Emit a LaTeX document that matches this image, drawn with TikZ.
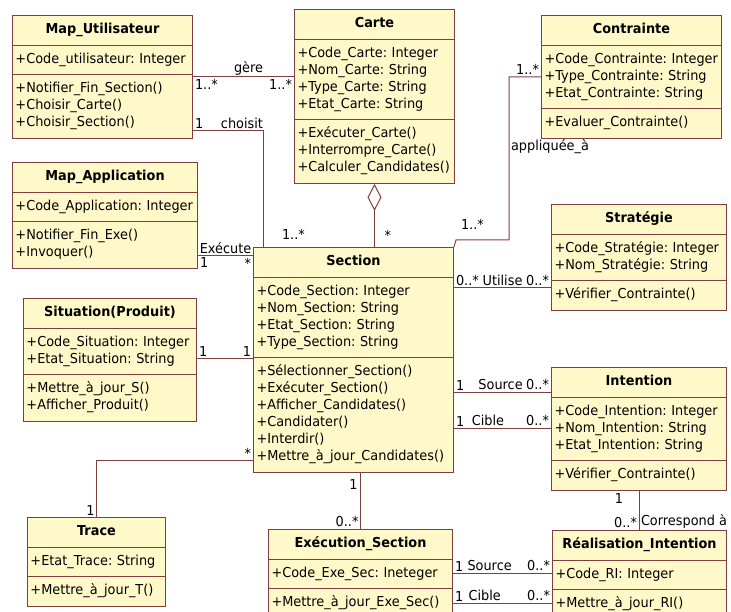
\documentclass[tikz,border=0pt]{standalone}
\usepackage{fontspec}
\setmainfont{DejaVu Sans}[FakeStretch=0.94]
\usepackage{tikz}
\usetikzlibrary{shapes.multipart, positioning, calc, arrows.meta}

\definecolor{umlfill}{HTML}{FFF9C9}
\definecolor{umlline}{HTML}{7F3F3F}
\newcommand{\umlfont}{\fontsize{13.7}{17}\selectfont\frenchspacing}

\tikzset{
    classbox/.style={rectangle split, rectangle split parts=3, draw=umlline, fill=umlfill,
        line width=1pt, anchor=north west, inner xsep=3pt, inner ysep=5.8pt,
        font=\umlfont, align=left}, % one UML class: title, attributes, operations
    assoc/.style={draw=umlline, line width=1pt}, % association lines
}

% name, x, y (top left), text width, title, attributes, operations
\newcommand{\classnode}[7]{%
    \node[classbox, text width=#4] (#1) at (#2,#3)
        {{\centering\bfseries\strut#5\strut\par}\nodepart{two}\strut#6\strut\nodepart{three}\strut#7\strut};%
}

\begin{document}
\begin{tikzpicture}[
                    x=1pt, y=-1pt,
                    mult/.style={font=\umlfont, inner sep=1.5pt},
                    role/.style={font=\umlfont, inner sep=1.5pt},
                ]
                \useasboundingbox (0,0) rectangle (731,612);
                % classes
                \classnode{MapU}{12}{15}{174}{Map\_Utilisateur}
                    {+Code\_utilisateur:~Integer}
                    {+Notifier\_Fin\_Section()\\+Choisir\_Carte()\\+Choisir\_Section()}
                \classnode{Carte}{294}{9}{154}{Carte}
                    {+Code\_Carte:~Integer\\+Nom\_Carte:~String\\+Type\_Carte:~String\\+Etat\_Carte:~String}
                    {+Exécuter\_Carte()\\+Interrompre\_Carte()\\+Calculer\_Candidates()}
                \classnode{Contrainte}{541}{15}{174}{Contrainte}
                    {+Code\_Contrainte:~Integer\\+Type\_Contrainte:~String\\+Etat\_Contrainte:~String}
                    {+Evaluer\_Contrainte()}
                \classnode{MapA}{12}{162}{179}{Map\_Application}
                    {+Code\_Application:~Integer}
                    {+Notifier\_Fin\_Exe()\\+Invoquer()}
                \classnode{Strategie}{551}{204}{169}{Stratégie}
                    {+Code\_Stratégie:~Integer\\+Nom\_Stratégie:~String}
                    {+Vérifier\_Contrainte()}
                \classnode{Section}{253}{247}{194}{Section}
                    {+Code\_Section:~Integer\\+Nom\_Section:~String\\+Etat\_Section:~String\\+Type\_Section:~String}
                    {+Sélectionner\_Section()\\+Exécuter\_Section()\\+Afficher\_Candidates()\\+Candidater()\\+Interdir()\\+Mettre\_à\_jour\_Candidates()}
                \classnode{Situation}{23}{298}{167}{Situation(Produit)}
                    {+Code\_Situation:~Integer\\+Etat\_Situation:~String}
                    {+Mettre\_à\_jour\_S()\\+Afficher\_Produit()}
                \classnode{Intention}{551}{367}{169}{Intention}
                    {+Code\_Intention:~Integer\\+Nom\_Intention:~String\\+Etat\_Intention:~String}
                    {+Vérifier\_Contrainte()}
                \classnode{Trace}{27}{517}{132}{Trace}
                    {+Etat\_Trace:~String}
                    {+Mettre\_à\_jour\_T()}
                \classnode{Execution}{268}{529}{178}{Exécution\_Section}
                    {+Code\_Exe\_Sec:~Ineteger}
                    {+Mettre\_à\_jour\_Exe\_Sec()}
                \classnode{Realisation}{552}{530}{168}{Réalisation\_Intention}
                    {+Code\_RI:~Integer}
                    {+Mettre\_à\_jour\_RI()}
                % associations
                \draw[assoc] (MapU.east |- 0,77) -- node[role, above, pos=0.55] {gère}
                    node[mult, below right, pos=0] {1..*} node[mult, below left, pos=1] {1..*} (Carte.west |- 0,77);
                \draw[assoc] (MapU.east |- 0,131) -| node[mult, above right, pos=0] {1}
                    node[role, above, pos=0.35] {choisit}
                    node[mult, pos=1, above right=5pt and 17pt] {1..*} ($(Section.north west)+(10,0)$);
                \draw[assoc] (MapA.east |- 0,256) -- node[role, above] {Exécute}
                    node[mult, below right, pos=0] {1} node[mult, below left, pos=1] {*} (Section.west |- 0,256);
                \draw[assoc] (Situation.east |- 0,358) -- node[mult, above right, pos=0] {1}
                    node[mult, above left, pos=1] {1} (Section.west |- 0,358);
                \draw[assoc] (Section.west |- 0,460) -| node[mult, above left, pos=0] {*}
                    node[mult, above left, pos=1] {1} (Trace.north);
                \draw[assoc, {Diamond[open, length=27pt, width=14pt]}-] (Carte.south) --
                    node[mult, pos=1, above right=4pt and 8pt] {*} (Carte.south |- Section.north);
                \draw[assoc] (Contrainte.west |- 0,77) -| node[mult, above left, pos=0] {1..*}
                    node[role, right, pos=0.715] {appliquée\_à} ++(-32,163)
                    -- node[mult, pos=1, above right=8pt and 3pt] {1..*} ++(-53,0) -- (Section.north east);
                \draw[assoc] (Section.east |- 0,288) -- node[mult, above right, pos=0] {0..*}
                    node[role, above] {Utilise} node[mult, above left, pos=1] {0..*} (Strategie.west |- 0,288);
                \draw[assoc] (Section.east |- 0,392) -- node[mult, above right, pos=0] {1}
                    node[role, above, pos=0.48] {Source} node[mult, above left, pos=1] {0..*} (Intention.west |- 0,392);
                \draw[assoc] (Section.east |- 0,428) -- node[mult, above right, pos=0] {1}
                    node[role, above, pos=0.35] {Cible} node[mult, above left, pos=1] {0..*} (Intention.west |- 0,428);
                \draw[assoc] (Execution.north |- Section.south) -- node[mult, pos=0, below left=5pt and 1pt] {1}
                    node[mult, above left, pos=1] {0..*} (Execution.north);
                \draw[assoc] (Intention.south) -- node[mult, pos=0, below left=1pt and 14pt] {1}
                    node[mult, above left, pos=1] {0..*}
                    node[role, above right, pos=1] {Correspond à} (Intention.south |- Realisation.north);
                \draw[assoc] (Execution.east |- 0,573) -- node[mult, above right, pos=0] {1}
                    node[role, above, pos=0.37] {Source} node[mult, above left, pos=1] {0..*} (Realisation.west |- 0,573);
                \draw[assoc] (Execution.east |- 0,603) -- node[mult, above right, pos=0] {1}
                    node[role, above, pos=0.32] {Cible} node[mult, above left, pos=1] {0..*} (Realisation.west |- 0,603);
            \end{tikzpicture}
\end{document}
